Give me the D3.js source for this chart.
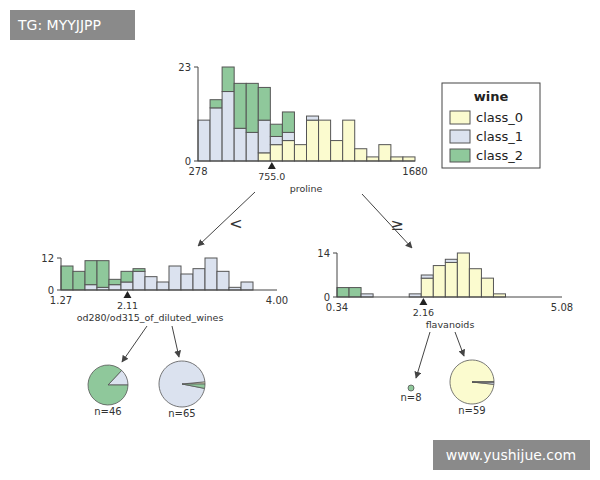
<!DOCTYPE html>
<html><head><meta charset="utf-8">
<script src="https://cdn.jsdelivr.net/npm/d3@7"></script>
<style>body{margin:0;background:#fff}text{font-family:"DejaVu Sans",sans-serif}</style>
</head><body>
<svg id="c" width="600" height="480"></svg>
<script>
var classes = ["class_0", "class_1", "class_2"];
var colors = ["#fbfbcf", "#dbe2ef", "#8fc89b"];

// proline histogram, counts per bin by class
var prolineC0 = [0,0,0,0,0,2,4,5,4,10,10,5,10,3,1,4,1,1];
var prolineC1 = [10,13,17,8,7,8,2,2,0,1,0,0,0,0,0,0,0,0];
var prolineC2 = [0,2,6,11,12,8,3,5,0,0,0,0,0,0,0,0,0,0];

var odC0 = [0,0,0,0,0,0,0,0,0,0,0,0,0,0,0,0];
var odC1 = [0,0,2,1,2,3,7,5,3,9,6,8,12,7,1,3];
var odC2 = [9,7,9,10,2,4,1,0,0,0,0,0,0,0,0,0];

var flavC0 = [0,0,0,0,0,0,0,6,10,11,14,9,6,1];
var flavC1 = [0,0,1,0,0,0,1,1,0,1,0,0,0,0];
var flavC2 = [3,3,0,0,0,0,0,0,0,0,0,0,0,0];

var pieLeft = [0, 6, 40];
var pieMid = [1, 62, 2];
var pieSmall = [0, 0, 8];
var pieRight = [58, 1, 0];

var svg = d3.select("#c");

function hist(o) {
    var g = svg.append("g");
    var x = d3.scaleLinear().domain(o.domain).range(o.xr);
    var y = d3.scaleLinear().domain([0, o.max]).range([o.base, o.top]);
    var n = o.c0.length;
    var w = (o.domain[1] - o.domain[0]) * o.binFrac;
    for (var i = 0; i < n; i++) {
        var v = [o.c0[i], o.c1[i], o.c2[i]];
        var acc = 0;
        v.forEach(function (d, k) {
            if (!d) return;
            g.append("rect")
                .attr("x", x(o.domain[0] + i * w))
                .attr("width", x(o.domain[0] + (i + 1) * w) - x(o.domain[0] + i * w))
                .attr("y", y(acc + d))
                .attr("height", y(acc) - y(acc + d))
                .attr("fill", colors[k])
                .attr("stroke", "#555").attr("stroke-width", 1);
            acc += d;
        });
    }
    g.append("line").attr("x1", o.xr[0]).attr("x2", o.xr[1]).attr("y1", o.base).attr("y2", o.base).attr("stroke", "#444");
    g.append("line").attr("x1", o.xr[0]).attr("x2", o.xr[0]).attr("y1", o.base).attr("y2", o.top).attr("stroke", "#444");
    [0, o.max].forEach(function (t) {
        g.append("line").attr("x1", o.xr[0] - 4).attr("x2", o.xr[0]).attr("y1", y(t)).attr("y2", y(t)).attr("stroke", "#444");
        g.append("text").attr("x", o.xr[0] - 7).attr("y", y(t) + 4).attr("text-anchor", "end").attr("font-size", 10).attr("fill", "#333").text(t);
    });
    o.ticks.forEach(function (t, k) {
        g.append("text").attr("x", x(t)).attr("y", o.base + 14).attr("text-anchor", "middle").attr("font-size", 10).attr("fill", "#333").text(o.tickLabels[k]);
    });
    var sx = x(o.split);
    g.append("path").attr("d", "M" + (sx - 4) + "," + (o.base + 8) + "L" + sx + "," + (o.base + 1) + "L" + (sx + 4) + "," + (o.base + 8) + "Z").attr("fill", "#222");
    g.append("text").attr("x", sx).attr("y", o.base + 19).attr("text-anchor", "middle").attr("font-size", 9.5).attr("fill", "#333").text(o.splitLabel);
    g.append("text").attr("x", o.labelX).attr("y", o.base + 31).attr("text-anchor", "middle").attr("font-size", 9.5).attr("fill", "#333").text(o.label);
}

hist({domain: [278, 1680], xr: [198, 415], base: 161, top: 67, max: 23, binFrac: 1 / 18,
    c0: prolineC0, c1: prolineC1, c2: prolineC2, ticks: [278, 1680], tickLabels: ["278", "1680"],
    split: 755, splitLabel: "755.0", label: "proline", labelX: 306});
hist({domain: [1.27, 4.00], xr: [61, 277], base: 290, top: 258, max: 12, binFrac: 36 / 648,
    c0: odC0, c1: odC1, c2: odC2, ticks: [1.27, 4.00], tickLabels: ["1.27", "4.00"],
    split: 2.11, splitLabel: "2.11", label: "od280/od315_of_diluted_wines", labelX: 150});
hist({domain: [0.34, 5.08], xr: [337, 562], base: 297, top: 253, max: 14, binFrac: 36 / 673,
    c0: flavC0, c1: flavC1, c2: flavC2, ticks: [0.34, 5.08], tickLabels: ["0.34", "5.08"],
    split: 2.16, splitLabel: "2.16", label: "flavanoids", labelX: 450});

// arrows
svg.append("defs").append("marker").attr("id", "ah").attr("viewBox", "0 0 10 10").attr("refX", 9).attr("refY", 5)
    .attr("markerWidth", 7).attr("markerHeight", 7).attr("orient", "auto")
    .append("path").attr("d", "M0,0L10,5L0,10Z").attr("fill", "#444");
[[255, 192, 198, 246], [362, 194, 412, 248], [147, 326, 122, 362], [172, 326, 179, 357], [430, 332, 416, 378], [455, 332, 464, 356]].forEach(function (a) {
    svg.append("line").attr("x1", a[0]).attr("y1", a[1]).attr("x2", a[2]).attr("y2", a[3])
        .attr("stroke", "#444").attr("stroke-width", 1).attr("marker-end", "url(#ah)");
});
svg.append("text").attr("x", 236).attr("y", 229).attr("font-size", 16).attr("fill", "#333").attr("text-anchor", "middle").text("<");
svg.append("text").attr("x", 397).attr("y", 230).attr("font-size", 16).attr("fill", "#333").attr("text-anchor", "middle").text("≥");

// pies
function pie(vals, cx, cy, r, label) {
    var arcs = d3.pie().sort(null).startAngle(Math.PI / 2).endAngle(Math.PI / 2 - 2 * Math.PI)(vals);
    var arc = d3.arc().innerRadius(0).outerRadius(r);
    var g = svg.append("g").attr("transform", "translate(" + cx + "," + cy + ")");
    g.selectAll("path").data(arcs).enter().append("path").attr("d", arc)
        .attr("fill", function (d, i) { return colors[i]; }).attr("stroke", "#555").attr("stroke-width", 0.8);
    svg.append("text").attr("x", cx).attr("y", cy + r + 10).attr("text-anchor", "middle").attr("font-size", 10).attr("fill", "#333").text(label);
}
pie(pieLeft, 108, 385, 20, "n=46");
pie(pieMid, 182, 384, 23, "n=65");
pie(pieSmall, 411, 388, 3, "n=8");
pie(pieRight, 472, 382, 22, "n=59");

// legend
var lg = svg.append("g");
lg.append("rect").attr("x", 442).attr("y", 83).attr("width", 98).attr("height", 85).attr("fill", "#fff").attr("stroke", "#444");
lg.append("text").attr("x", 491).attr("y", 101).attr("text-anchor", "middle").attr("font-size", 13).attr("font-weight", "bold").attr("fill", "#222").text("wine");
classes.forEach(function (c, i) {
    lg.append("rect").attr("x", 450).attr("y", 111 + i * 19).attr("width", 20).attr("height", 13).attr("fill", colors[i]).attr("stroke", "#555");
    lg.append("text").attr("x", 476).attr("y", 122 + i * 19).attr("font-size", 13).attr("fill", "#222").text(c);
});

// watermarks
svg.append("rect").attr("x", 10).attr("y", 10).attr("width", 125).attr("height", 30).attr("fill", "#8a8a8a");
svg.append("text").attr("x", 18).attr("y", 30).attr("font-size", 14).attr("fill", "#fff").text("TG: MYYJJPP");
svg.append("rect").attr("x", 433).attr("y", 440).attr("width", 157).attr("height", 30).attr("fill", "#8a8a8a");
svg.append("text").attr("x", 511).attr("y", 460).attr("text-anchor", "middle").attr("font-size", 14).attr("fill", "#fff").text("www.yushijue.com");
</script>
</body></html>
